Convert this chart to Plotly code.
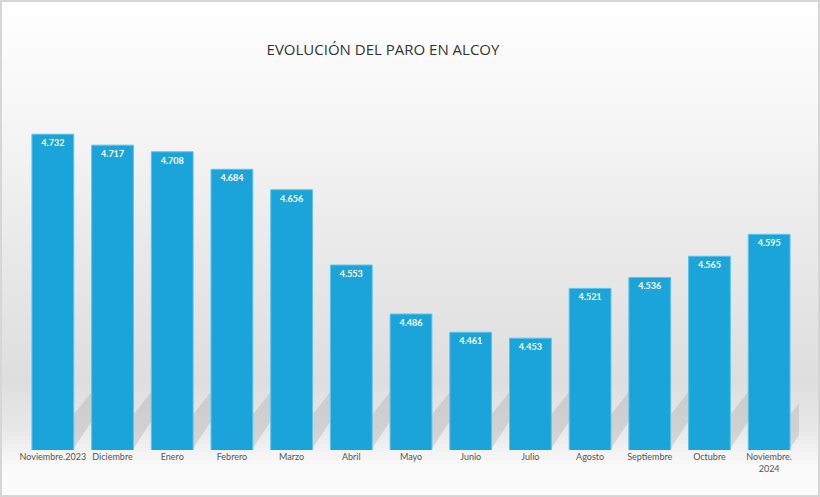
import plotly.graph_objects as go

categories = ["Noviembre.2023", "Diciembre", "Enero", "Febrero", "Marzo", "Abril", "Mayo",
              "Junio", "Julio", "Agosto", "Septiembre", "Octubre", "Noviembre.<br>2024"]
values = [4732, 4717, 4708, 4684, 4656, 4553, 4486, 4461, 4453, 4521, 4536, 4565, 4595]
title_text = "EVOLUCIÓN DEL PARO EN ALCOY"

W, H = 820, 497
ML, MR, MT, MB = 23, 21, 95, 47
y0 = 4300
ppu = 0.731  # pixels per unit
y1 = y0 + (H - MT - MB) / ppu

fig = go.Figure()
fig.add_trace(go.Bar(
    x=list(range(len(categories))), y=values,
    marker=dict(color="#1ba4da", line=dict(color="#5cc4ec", width=1)),
    texttemplate="<b>%{y:,}</b>",
    textposition="inside", insidetextanchor="end",
    textfont=dict(color="white", size=9, family="Lato"),
    constraintext="none",
    hoverinfo="skip",
))

pw = W - ML - MR
ph = H - MT - MB
def px_to_paper_x(px):
    return (px - ML) / pw
def py_to_paper_y(py):
    return (H - MB - py) / ph

stops = [(0, (255, 255, 255)), (120, (246, 246, 246)), (250, (233, 233, 233)),
         (380, (222, 222, 222)), (430, (232, 232, 232)), (465, (250, 250, 250)), (497, (252, 252, 252))]
def col_at(py):
    for (a, ca), (b, cb) in zip(stops[:-1], stops[1:]):
        if a <= py <= b:
            t = (py - a) / (b - a) if b > a else 0
            return tuple(int(round(ca[i] + (cb[i] - ca[i]) * t)) for i in range(3))
    return stops[-1][1]

shapes = []
step = 4
for py in range(0, H, step):
    c = col_at(py + step / 2)
    shapes.append(dict(type="rect", xref="paper", yref="paper", layer="below",
                       x0=px_to_paper_x(0), x1=px_to_paper_x(W),
                       y0=py_to_paper_y(py + step), y1=py_to_paper_y(py),
                       fillcolor="rgb(%d,%d,%d)" % c, line=dict(width=0)))

# subtle diagonal shadows derived from bar positions
for i, v in enumerate(values):
    xa = i + 0.35
    shapes.append(dict(type="path", xref="x", yref="y", layer="below",
                       path="M %f,%f L %f,%f L %f,%f L %f,%f Z" % (
                           xa, y0 + 2, xa + 0.75, y0 + 95, xa + 0.45, y0 + 95, xa - 0.45, y0 + 2),
                       fillcolor="rgba(150,150,150,0.28)", line=dict(width=0)))

# border
shapes.append(dict(type="rect", xref="paper", yref="paper", layer="above",
                   x0=px_to_paper_x(1), x1=px_to_paper_x(W - 1),
                   y0=py_to_paper_y(H - 1), y1=py_to_paper_y(1),
                   line=dict(color="#d6d6d6", width=2), fillcolor="rgba(0,0,0,0)"))

fig.update_layout(
    width=W, height=H,
    margin=dict(l=ML, r=MR, t=MT, b=MB),
    paper_bgcolor="white", plot_bgcolor="rgba(0,0,0,0)",
    separators=",.",
    bargap=0.3,
    showlegend=False,
    title=dict(text=title_text, x=383 / W, xanchor="center", y=1 - 50 / H, yanchor="middle",
               font=dict(family="Open Sans", size=15, color="#333333")),
    xaxis=dict(range=[-0.5, len(categories) - 0.5], tickmode="array",
               tickvals=list(range(len(categories))), ticktext=categories,
               showgrid=False, zeroline=False, showline=False, ticks="",
               tickfont=dict(family="Lato", size=9, color="#555555"), tickangle=0),
    yaxis=dict(range=[y0, y1], visible=False, showgrid=False, zeroline=False),
    shapes=shapes,
)

fig.write_html("out.html")
